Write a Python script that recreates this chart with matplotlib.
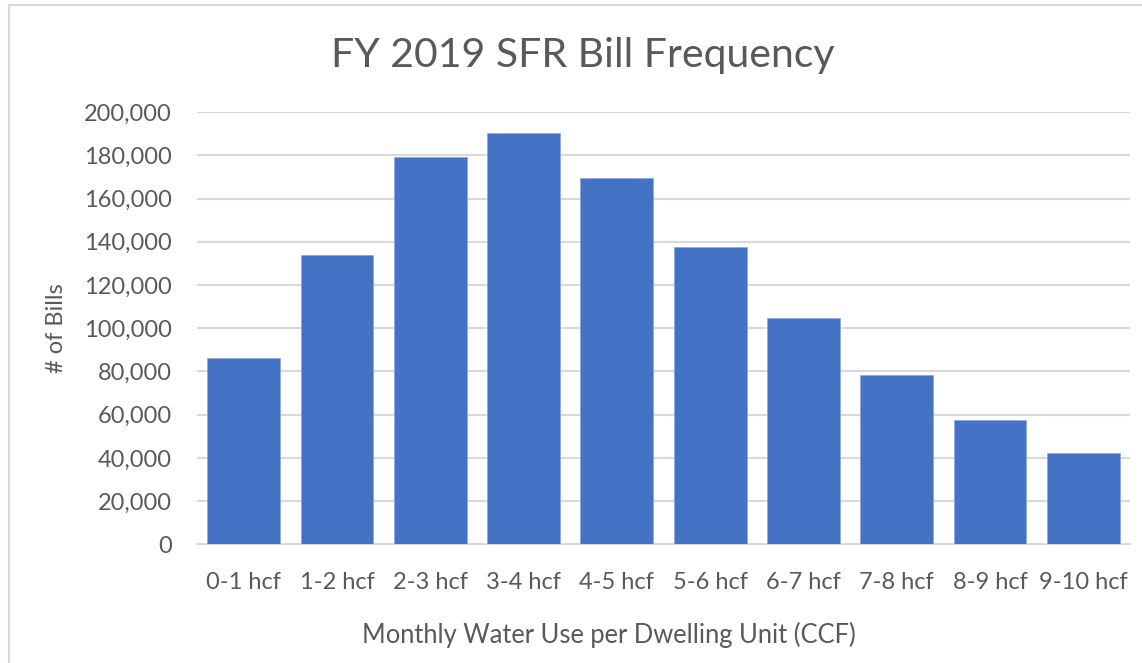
import matplotlib
matplotlib.use("Agg")
import matplotlib.pyplot as plt
from matplotlib.lines import Line2D
from matplotlib.ticker import FuncFormatter

# Données
categories = ["0-1 hcf", "1-2 hcf", "2-3 hcf", "3-4 hcf", "4-5 hcf",
              "5-6 hcf", "6-7 hcf", "7-8 hcf", "8-9 hcf", "9-10 hcf"]
nb_factures = [86100, 133800, 179300, 190300, 169400,
               137500, 104800, 78400, 57700, 42100]
y_ticks = [0, 20000, 40000, 60000, 80000, 100000, 120000, 140000, 160000, 180000, 200000]

texte = '#595959'
grille = '#D9D9D9'
plt.rcParams['font.family'] = ['Lato', 'DejaVu Sans']

fig = plt.figure(figsize=(11.42, 6.63), dpi=100)
ax = fig.add_axes([0.1725, 0.179, 0.817, 0.652])

x = range(len(categories))
ax.bar(x, nb_factures, width=0.78, color='#4472C4', edgecolor='#8FAADC', linewidth=0.6, zorder=3)

ax.set_xlim(-0.5, len(categories) - 0.5)
ax.set_ylim(0, 200000)
ax.set_yticks(y_ticks)
ax.yaxis.set_major_formatter(FuncFormatter(lambda v, p: f"{int(v):,}"))
ax.set_xticks(list(x))
ax.set_xticklabels(categories)

ax.grid(axis='y', color=grille, linewidth=1.5, zorder=0)
for s in ['left', 'right', 'top']:
    ax.spines[s].set_visible(False)
ax.spines['bottom'].set_color(grille)
ax.spines['bottom'].set_linewidth(1.5)
ax.tick_params(axis='both', length=0, labelsize=17, colors=texte)
ax.tick_params(axis='x', pad=20)
ax.tick_params(axis='y', pad=18)

ax.set_ylabel("# of Bills", fontsize=17, color=texte, labelpad=12)
# titres d'axe et titre principal placés en coordonnées figure
fig.text(0.533, 0.042, "Monthly Water Use per Dwelling Unit (CCF)", ha='center', va='center',
         fontsize=18.4, color=texte)
fig.text(0.51, 0.917, "FY 2019 SFR Bill Frequency", ha='center', va='center', fontsize=29.5, color=texte)

# Bordure du cadre (haut et gauche)
fig.add_artist(Line2D([0.0075, 1.0], [0.9925, 0.9925], color=grille, linewidth=1.5))
fig.add_artist(Line2D([0.0075, 0.0075], [0.0, 0.9925], color=grille, linewidth=1.5))

fig.savefig("out.png", dpi=100)
